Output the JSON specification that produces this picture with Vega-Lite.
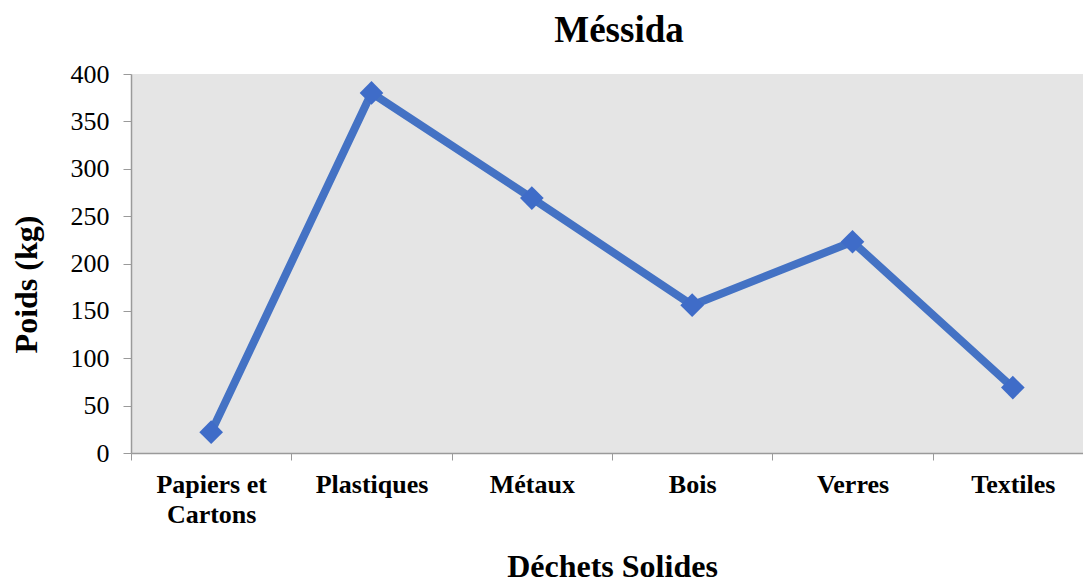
{
  "$schema": "https://vega.github.io/schema/vega-lite/v6.json",
  "autosize": {"type": "none"},
  "padding": {"left": 131, "top": 74, "right": 0, "bottom": 129},
  "width": 962,
  "height": 379,
  "background": "white",
  "title": {
    "text": "Méssida",
    "font": "Liberation Serif",
    "fontSize": 37,
    "fontWeight": "bold",
    "color": "#000000",
    "anchor": "middle",
    "offset": 11,
    "dx": 7
  },
  "data": {
    "values": [
      {"categorie": "Papiers et Cartons", "poids": 22},
      {"categorie": "Plastiques", "poids": 380},
      {"categorie": "Métaux", "poids": 269},
      {"categorie": "Bois", "poids": 156},
      {"categorie": "Verres", "poids": 223},
      {"categorie": "Textiles", "poids": 69}
    ]
  },
  "config": {
    "view": {"fill": "#e5e5e5", "stroke": null}
  },
  "encoding": {
    "x": {
      "field": "categorie",
      "type": "nominal",
      "sort": null,
      "scale": {"type": "band", "paddingInner": 0, "paddingOuter": 0},
      "axis": {
        "title": "Déchets Solides",
        "titleFont": "Liberation Serif",
        "titleFontSize": 32,
        "titleFontWeight": "bold",
        "titleColor": "#000000",
        "titlePadding": 24,
        "labelFont": "Liberation Serif",
        "labelFontSize": 26,
        "labelFontWeight": "bold",
        "labelColor": "#000000",
        "labelAngle": 0,
        "labelPadding": 11,
        "labelLineHeight": 30,
        "labelExpr": "datum.label == 'Papiers et Cartons' ? ['Papiers et', 'Cartons'] : datum.label",
        "tickBand": "extent",
        "tickSize": 7,
        "tickColor": "#9a9a9a",
        "domainColor": "#9a9a9a",
        "domainWidth": 1.5,
        "grid": false
      }
    },
    "y": {
      "field": "poids",
      "type": "quantitative",
      "scale": {"domain": [0, 400]},
      "axis": {
        "title": "Poids (kg)",
        "titleFont": "Liberation Serif",
        "titleFontSize": 32,
        "titleFontWeight": "bold",
        "titleColor": "#000000",
        "titlePadding": 27,
        "titleY": 210,
        "labelFont": "Liberation Serif",
        "labelFontSize": 26,
        "labelColor": "#000000",
        "labelPadding": 14,
        "values": [0, 50, 100, 150, 200, 250, 300, 350, 400],
        "tickSize": 8,
        "tickColor": "#9a9a9a",
        "domainColor": "#9a9a9a",
        "domainWidth": 1.5,
        "grid": false
      }
    }
  },
  "layer": [
    {
      "mark": {"type": "line", "color": "#4472c4", "strokeWidth": 8, "strokeJoin": "round"}
    },
    {
      "mark": {"type": "point", "shape": "diamond", "filled": true, "size": 560, "color": "#3f6cc8", "opacity": 1}
    }
  ]
}
